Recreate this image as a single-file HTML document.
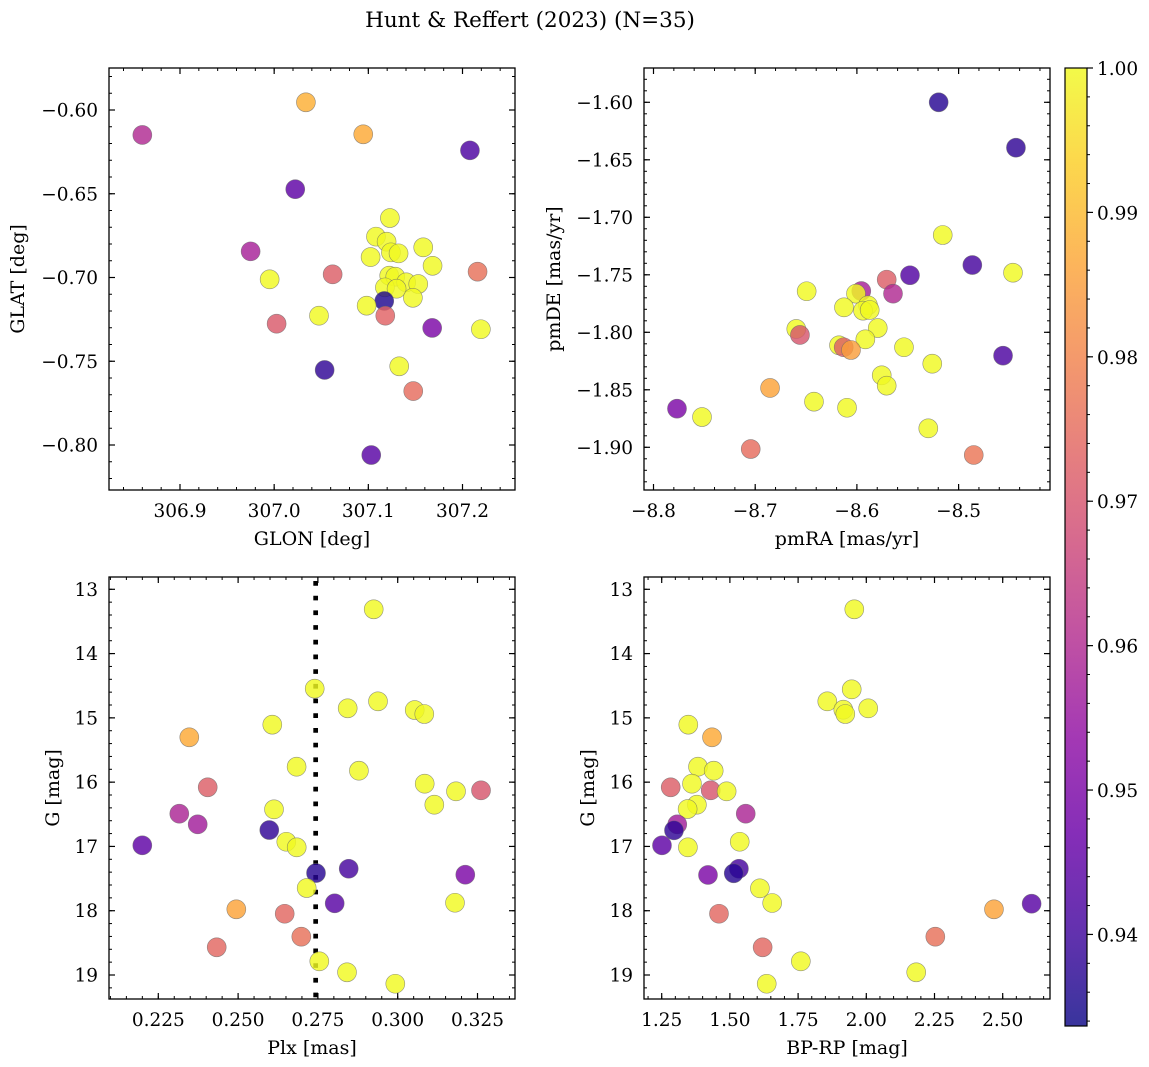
<!DOCTYPE html>
<html><head><meta charset="utf-8">
<style>
html,body{margin:0;padding:0;background:#fff;}
svg{display:block;font-family:"DejaVu Serif","Liberation Serif",serif;}
</style></head>
<body>
<svg id="fig" width="1149" height="1067" viewBox="0 0 1149 1067" xmlns="http://www.w3.org/2000/svg">
<text x="530" y="27" font-size="21.5" text-anchor="middle">Hunt &amp; Reffert (2023) (N=35)</text>
</svg>
<script>
// ---- data ----
const glon=[306.860,307.0337,307.0946,307.2079,307.0224,307.1229,307.1081,307.1194,307.1583,307.1240,307.1321,306.975,307.1024,307.1682,307.2160,307.0621,306.9952,307.1222,307.1286,307.1402,307.153,307.1176,307.130,307.1473,307.1169,307.0982,307.0476,307.1180,307.0026,307.1678,307.2195,307.1328,307.0536,307.1477,307.1031];
const glat=[-0.6149,-0.5954,-0.6145,-0.6241,-0.6473,-0.6645,-0.6756,-0.6786,-0.6820,-0.6850,-0.6856,-0.6844,-0.6878,-0.6930,-0.6965,-0.6981,-0.7011,-0.6989,-0.6995,-0.7029,-0.7039,-0.7059,-0.7067,-0.7121,-0.7140,-0.7168,-0.7228,-0.7228,-0.7276,-0.7301,-0.7309,-0.7530,-0.7552,-0.7678,-0.8060];
const prob1=[0.960,0.988,0.987,0.942,0.945,1,1,1,1,1,1,0.958,1,1,0.976,0.972,1,1,1,1,1,1,1,1,0.936,1,1,0.973,0.971,0.950,1,1,0.938,0.975,0.944];

const pmra=[-8.5196,-8.4436,-8.5156,-8.4865,-8.4465,-8.5478,-8.5707,-8.6494,-8.5957,-8.5645,-8.6009,-8.6127,-8.5891,-8.5940,-8.5874,-8.5795,-8.6596,-8.6560,-8.5917,-8.6176,-8.6130,-8.6058,-8.5537,-8.4563,-8.5259,-8.5756,-8.5707,-8.6854,-8.6422,-8.6097,-8.7769,-8.7523,-8.5298,-8.7044,-8.4851];
const pmde=[-1.600,-1.6395,-1.7154,-1.7415,-1.7482,-1.7504,-1.7542,-1.7643,-1.7641,-1.7664,-1.7664,-1.7783,-1.7765,-1.7812,-1.7806,-1.7963,-1.7971,-1.8023,-1.8061,-1.8113,-1.8130,-1.8154,-1.8130,-1.8203,-1.8273,-1.8374,-1.8464,-1.8484,-1.8603,-1.8656,-1.8664,-1.8737,-1.8835,-1.9015,-1.9067];
const prob2=[0.937,0.938,1,0.941,1,0.943,0.972,1,0.958,0.960,1,1,1,1,1,1,1,0.970,1,1,0.972,0.985,1,0.942,1,1,1,0.986,1,1,0.950,1,1,0.975,0.977];

const plx=[0.29248,0.27400,0.28433,0.29383,0.30533,0.30833,0.26071,0.23471,0.26833,0.28785,0.30846,0.31827,0.32610,0.24048,0.31147,0.26125,0.23158,0.23734,0.25977,0.26510,0.26836,0.21999,0.28465,0.27441,0.32118,0.27149,0.28026,0.31795,0.24944,0.26460,0.26980,0.24330,0.27544,0.28412,0.29925];
const gmag3=[13.311,14.546,14.851,14.743,14.878,14.940,15.106,15.302,15.760,15.822,16.024,16.143,16.127,16.080,16.351,16.423,16.491,16.656,16.745,16.927,17.014,16.983,17.347,17.414,17.440,17.647,17.885,17.876,17.978,18.047,18.404,18.569,18.787,18.958,19.136];
const prob3=[1,1,1,1,1,1,1,0.987,1,1,1,1,0.970,0.972,1,1,0.959,0.957,0.938,1,1,0.945,0.941,0.937,0.950,1,0.944,1,0.986,0.974,0.976,0.974,1,1,1];
const plxRef=[0.2743];

const bprp=[1.956,1.9465,1.857,2.007,1.9157,1.923,1.3475,1.4344,1.383,1.4406,1.283,1.361,1.4296,1.488,1.379,1.345,1.558,1.307,1.295,1.536,1.346,1.251,1.533,1.514,1.4197,1.610,2.606,1.655,2.468,1.460,2.253,1.620,1.760,2.183,1.635];
const gmag4=[13.311,14.556,14.743,14.852,14.873,14.940,15.106,15.302,15.760,15.822,16.080,16.024,16.127,16.143,16.351,16.418,16.491,16.656,16.75,16.927,17.014,16.983,17.347,17.418,17.444,17.652,17.891,17.880,17.978,18.047,18.404,18.569,18.787,18.958,19.136];
const prob4=[1,1,1,1,1,1,1,0.987,1,1,0.972,1,0.970,1,1,1,0.959,0.957,0.938,1,1,0.945,0.941,0.937,0.950,1,0.944,1,0.986,0.974,0.976,0.974,1,1,1];

const ticks1x=[306.9,307.0,307.1,307.2], ticks1y=[-0.60,-0.65,-0.70,-0.75,-0.80];
const ticks2x=[-8.8,-8.7,-8.6,-8.5], ticks2y=[-1.60,-1.65,-1.70,-1.75,-1.80,-1.85,-1.90];
const ticks3x=[0.225,0.250,0.275,0.300,0.325], ticksGy=[13,14,15,16,17,18,19];
const ticks4x=[1.25,1.50,1.75,2.00,2.25,2.50];
const cbTicks=[0.94,0.95,0.96,0.97,0.98,0.99,1.00];

// ---- helpers ----
const NS="http://www.w3.org/2000/svg";
const svg=document.getElementById('fig');
function mk(tag,attrs,parent){const e=document.createElementNS(NS,tag);for(const k in attrs)e.setAttribute(k,attrs[k]);(parent||svg).appendChild(e);return e;}
const VMIN=0.93366,VMAX=1.0;
const plasma=[[13,8,135],[65,4,157],[106,0,168],[143,13,164],[177,42,144],[204,71,120],[225,100,98],[242,132,75],[252,166,54],[252,206,37],[240,249,33]];
function cmap(v){let t=(v-VMIN)/(VMAX-VMIN);t=Math.max(0,Math.min(1,t));const f=t*10,i=Math.min(9,Math.floor(f)),r=f-i;const a=plasma[i],b=plasma[i+1];return 'rgb('+[0,1,2].map(k=>Math.round(a[k]+(b[k]-a[k])*r)).join(',')+')';}
function lin(d0,p0,d1,p1){return v=>p0+(v-d0)*(p1-p0)/(d1-d0);}
const TFS=18.5, LFS=19;

function panel(o){
  const g=mk('g',{});
  
  
  const L=o.L,R=o.R,T=o.T,B=o.B;
  const lo=Math.min(o.xlim[0],o.xlim[1]),hi=Math.max(o.xlim[0],o.xlim[1]);
  for(let v=Math.ceil(lo/o.xminor-1e-9)*o.xminor; v<=hi+1e-9; v+=o.xminor){const x=o.sx(v);if(x<L||x>R)continue;
    mk('line',{x1:x,x2:x,y1:B,y2:B-3,stroke:'#000','stroke-width':1},g);mk('line',{x1:x,x2:x,y1:T,y2:T+3,stroke:'#000','stroke-width':1},g);}
  const ylo=Math.min(o.ylim[0],o.ylim[1]),yhi=Math.max(o.ylim[0],o.ylim[1]);
  for(let v=Math.ceil(ylo/o.yminor-1e-9)*o.yminor; v<=yhi+1e-9; v+=o.yminor){const y=o.sy(v);if(y<T||y>B)continue;
    mk('line',{x1:L,x2:L+3,y1:y,y2:y,stroke:'#000','stroke-width':1},g);mk('line',{x1:R,x2:R-3,y1:y,y2:y,stroke:'#000','stroke-width':1},g);}
  o.xt.forEach(v=>{const x=o.sx(v);
    mk('line',{x1:x,x2:x,y1:B,y2:B-6,stroke:'#000','stroke-width':1.2},g);mk('line',{x1:x,x2:x,y1:T,y2:T+6,stroke:'#000','stroke-width':1.2},g);
    const t=mk('text',{x:x,y:B+27,'font-size':TFS,'text-anchor':'middle'},g);t.textContent=o.xf(v);
    
    });
  o.yt.forEach(v=>{const y=o.sy(v);
    mk('line',{x1:L,x2:L+6,y1:y,y2:y,stroke:'#000','stroke-width':1.2},g);mk('line',{x1:R,x2:R-6,y1:y,y2:y,stroke:'#000','stroke-width':1.2},g);
    const t=mk('text',{x:L-11,y:y+6.5,'font-size':TFS,'text-anchor':'end'},g);t.textContent=o.yf(v);
    
    });
  if(o.vline){o.vline.forEach(v=>{const l=mk('line',{x1:o.sx(v),x2:o.sx(v),y1:T+4,y2:B,stroke:'#000','stroke-width':4.7,'stroke-dasharray':'4.7 10'},g);
    
    });}
  o.xs.forEach((xv,i)=>{const c=mk('circle',{cx:o.sx(xv),cy:o.sy(o.ys[i]),r:9.5,fill:cmap(o.cs[i]),'fill-opacity':0.82,stroke:'#666','stroke-opacity':0.7,'stroke-width':0.6},g);
    
    });
  mk('rect',{x:L,y:T,width:R-L,height:B-T,fill:'none',stroke:'#000','stroke-width':1.3},g);
  const xl=mk('text',{x:(L+R)/2,y:B+55,'font-size':LFS,'text-anchor':'middle'},g);xl.textContent=o.xlabel;
  
  
  const yl=mk('text',{x:0,y:0,'font-size':LFS,'text-anchor':'middle',transform:'translate('+o.ylx+','+(T+B)/2+') rotate(-90)'},g);yl.textContent=o.ylabel;
  
  
}
const f1=v=>v.toFixed(1), f2=v=>(v<0?'\u2212':'')+Math.abs(v).toFixed(2), f3=v=>v.toFixed(3), fm1=v=>'\u2212'+Math.abs(v).toFixed(1), fi=v=>String(v), f2p=v=>v.toFixed(2);
let sx=lin(306.9,180,307.2,462.5), sy=lin(-0.60,110,-0.80,445);
panel({name:'glon-glat-panel',L:109,R:515,T:68,B:490,sx,sy,xlim:[306.82,307.26],ylim:[-0.575,-0.826],xminor:0.02,yminor:0.01,xt:ticks1x,yt:ticks1y,xf:f1,yf:f2,xs:glon,ys:glat,cs:prob1,xlabel:'GLON [deg]',ylabel:'GLAT [deg]',ylx:24});
sx=lin(-8.8,653.5,-8.5,958.6); sy=lin(-1.60,102.3,-1.90,447.3);
panel({name:'pmra-pmde-panel',L:644,R:1050,T:68,B:490,sx,sy,xlim:[-8.81,-8.41],ylim:[-1.57,-1.94],xminor:0.02,yminor:0.01,xt:ticks2x,yt:ticks2y,xf:fm1,yf:f2,xs:pmra,ys:pmde,cs:prob2,xlabel:'pmRA [mas/yr]',ylabel:'pmDE [mas/yr]',ylx:560});
sx=lin(0.225,158.3,0.325,477.5); sy=lin(13,589.3,19,975);
panel({name:'plx-g-panel',L:109,R:515,T:577,B:999,sx,sy,xlim:[0.20,0.34],ylim:[12.8,19.4],xminor:0.005,yminor:0.2,xt:ticks3x,yt:ticksGy,xf:f3,yf:fi,xs:plx,ys:gmag3,cs:prob3,vline:plxRef,xlabel:'Plx [mas]',ylabel:'G [mag]',ylx:59});
sx=lin(1.25,661.7,2.50,1002.7);
panel({name:'color-magnitude-panel',L:644,R:1050,T:577,B:999,sx,sy,xlim:[1.2,2.7],ylim:[12.8,19.4],xminor:0.05,yminor:0.2,xt:ticks4x,yt:ticksGy,xf:f2p,yf:fi,xs:bprp,ys:gmag4,cs:prob4,xlabel:'BP-RP [mag]',ylabel:'G [mag]',ylx:594});

const cb=mk('g',{});


const defs=mk('defs',{});
const lg=mk('linearGradient',{id:'pg',x1:0,y1:1,x2:0,y2:0},defs);
plasma.forEach((c,i)=>mk('stop',{offset:i/10,'stop-color':'rgb('+c.join(',')+')'},lg));
const CT=68,CBt=1026,CL=1065,CR=1087;
const cy=lin(VMIN,CBt,VMAX,CT);
mk('rect',{x:CL,y:CT,width:CR-CL,height:CBt-CT,fill:'url(#pg)','fill-opacity':0.82},cb);
mk('rect',{x:CL,y:CT,width:CR-CL,height:CBt-CT,fill:'none',stroke:'#000','stroke-width':1.2},cb);
for(let v=0.934;v<=1.0001;v+=0.002){const y=cy(v);if(y<CT||y>CBt)continue;mk('line',{x1:CR,x2:CR+3,y1:y,y2:y,stroke:'#000','stroke-width':1},cb);}
cbTicks.forEach(v=>{const y=cy(v);mk('line',{x1:CR,x2:CR+6,y1:y,y2:y,stroke:'#000','stroke-width':1.2},cb);
  const t=mk('text',{x:CR+10,y:y+7,'font-size':TFS},cb);t.textContent=v.toFixed(2);
  
  });
</script>
</body></html>
